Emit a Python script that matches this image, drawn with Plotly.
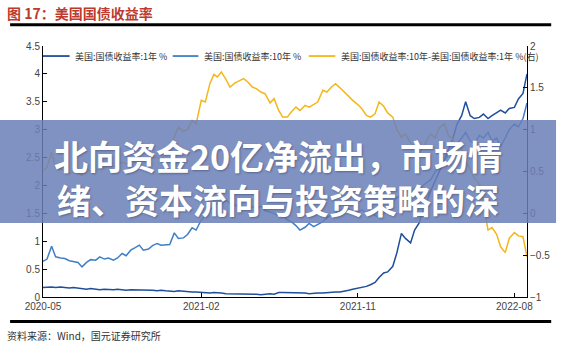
import plotly.graph_objects as go

# Weekly observation dates (1st, 8th, 16th, 23rd of each month), 2020-05 .. 2022-08
months = []
yr, mo = 2020, 5
while (yr, mo) <= (2022, 8):
    months.append(f"{yr}-{mo:02d}")
    mo += 1
    if mo > 12:
        yr, mo = yr + 1, 1
week_days = ["01", "08", "16", "23"]
dates = [f"{m}-{d}" for m in months for d in week_days]

# 美国:国债收益率:1年 (%)
yield_1y = [
    0.17, 0.18, 0.18, 0.17,   # 2020-05
    0.18, 0.17, 0.16, 0.17,   # 2020-06
    0.16, 0.15, 0.14, 0.15,   # 2020-07
    0.14, 0.13, 0.14, 0.13,   # 2020-08
    0.13, 0.14, 0.13, 0.12,   # 2020-09
    0.13, 0.13, 0.12, 0.13,   # 2020-10
    0.12, 0.12, 0.11, 0.12,   # 2020-11
    0.11, 0.10, 0.10, 0.11,   # 2020-12
    0.10, 0.10, 0.09, 0.09,   # 2021-01
    0.08, 0.07, 0.07, 0.08,   # 2021-02
    0.07, 0.07, 0.06, 0.06,   # 2021-03
    0.06, 0.05, 0.05, 0.05,   # 2021-04
    0.05, 0.05, 0.04, 0.05,   # 2021-05
    0.06, 0.05, 0.08, 0.08,   # 2021-06
    0.08, 0.07, 0.07, 0.07,   # 2021-07
    0.07, 0.06, 0.07, 0.07,   # 2021-08
    0.07, 0.08, 0.08, 0.09,   # 2021-09
    0.09, 0.10, 0.12, 0.14,   # 2021-10
    0.16, 0.17, 0.19, 0.22,   # 2021-11
    0.26, 0.35, 0.43, 0.45,   # 2021-12
    0.55, 0.79, 1.14, 1.05,   # 2022-01
    0.97, 1.20, 1.33, 1.56,   # 2022-02
    1.70, 1.90, 2.10, 2.25,   # 2022-03
    2.45, 2.65, 2.85, 3.10,   # 2022-04
    3.25, 3.50, 3.25, 3.20,   # 2022-05
    3.22, 3.28, 3.20, 3.25,   # 2022-06
    3.30, 3.35, 3.30, 3.38,   # 2022-07
    3.40, 3.55, 3.65, 4.00,   # 2022-08
]

# 美国:国债收益率:10年 (%)
yield_10y = [
    0.64, 0.68, 0.91, 0.72,   # 2020-05
    0.70, 0.69, 0.65, 0.64,   # 2020-06
    0.62, 0.54, 0.62, 0.67,   # 2020-07
    0.66, 0.72, 0.68, 0.70,   # 2020-08
    0.66, 0.70, 0.78, 0.74,   # 2020-09
    0.84, 0.88, 0.93, 0.84,   # 2020-10
    0.86, 0.92, 0.96, 0.93,   # 2020-11
    0.93, 0.94, 1.15, 1.05,   # 2020-12
    1.06, 1.12, 1.24, 1.20,   # 2021-01
    1.38, 1.45, 1.56, 1.62,   # 2021-02
    1.70, 1.66, 1.74, 1.68,   # 2021-03
    1.65, 1.62, 1.58, 1.60,   # 2021-04
    1.62, 1.58, 1.63, 1.55,   # 2021-05
    1.52, 1.50, 1.45, 1.48,   # 2021-06
    1.38, 1.35, 1.28, 1.20,   # 2021-07
    1.25, 1.32, 1.26, 1.30,   # 2021-08
    1.35, 1.42, 1.48, 1.52,   # 2021-09
    1.55, 1.60, 1.58, 1.54,   # 2021-10
    1.52, 1.56, 1.50, 1.58,   # 2021-11
    1.46, 1.43, 1.50, 1.52,   # 2021-12
    1.70, 1.78, 1.82, 1.75,   # 2022-01
    1.80, 1.95, 1.90, 2.00,   # 2022-02
    2.05, 2.10, 2.25, 2.35,   # 2022-03
    2.45, 2.55, 2.70, 2.75,   # 2022-04
    2.85, 2.95, 2.80, 2.75,   # 2022-05
    2.90, 2.85, 2.95, 2.80,   # 2022-06
    2.85, 2.70, 2.85, 3.00,   # 2022-07
    3.10, 3.05, 3.20, 3.48,   # 2022-08
]

# 美国:国债收益率:10年-1年 (%), right axis
spread_10y_1y = [
    0.51, 0.55, 0.73, 0.54,   # 2020-05
    0.53, 0.51, 0.48, 0.50,   # 2020-06
    0.49, 0.45, 0.53, 0.50,   # 2020-07
    0.51, 0.55, 0.54, 0.57,   # 2020-08
    0.56, 0.58, 0.61, 0.59,   # 2020-09
    0.63, 0.61, 0.64, 0.62,   # 2020-10
    0.63, 0.66, 0.67, 0.65,   # 2020-11
    0.70, 0.79, 0.92, 1.03,   # 2020-12
    0.98, 1.00, 1.11, 1.07,   # 2021-01
    1.35, 1.33, 1.55, 1.66,   # 2021-02
    1.63, 1.69, 1.60, 1.51,   # 2021-03
    1.56, 1.58, 1.61, 1.57,   # 2021-04
    1.51, 1.49, 1.45, 1.43,   # 2021-05
    1.32, 1.37, 1.23, 1.15,   # 2021-06
    1.15, 1.21, 1.27, 1.23,   # 2021-07
    1.29, 1.27, 1.30, 1.33,   # 2021-08
    1.47, 1.45, 1.51, 1.55,   # 2021-09
    1.50, 1.45, 1.40, 1.35,   # 2021-10
    1.30, 1.25, 1.17, 1.15,   # 2021-11
    1.19, 1.33, 1.28, 1.20,   # 2021-12
    1.15, 1.00, 0.91, 0.95,   # 2022-01
    0.84, 0.80, 0.72, 0.78,   # 2022-02
    0.87, 0.95, 0.90, 1.02,   # 2022-03
    1.07, 0.93, 0.88, 0.80,   # 2022-04
    0.78, 0.62, 0.53, 0.42,   # 2022-05
    0.35, 0.13, -0.20, -0.17, # 2022-06
    -0.25, -0.40, -0.47, -0.30,  # 2022-07
    -0.23, -0.27, -0.28, -0.52,  # 2022-08
]

x_tick_vals = ["2020-05-01", "2021-02-01", "2021-11-01", "2022-08-01"]
x_tick_text = ["2020-05", "2021-02", "2021-11", "2022-08"]

series_names = [
    "美国:国债收益率:1年 %",
    "美国:国债收益率:10年 %",
    "美国:国债收益率:10年-美国:国债收益率:1年 %(右)",
]
series_colors = ["#1F4E9B", "#3F7FC6", "#F4B71A"]

headline_lines = ["北向资金20亿净流出，市场情", "绪、资本流向与投资策略的深"]

CJK = "Noto Sans CJK SC"
TICK_FONT = dict(family="Liberation Sans, Arial", size=10, color="#444444")

fig = go.Figure()
fig.add_trace(go.Scatter(x=dates, y=yield_1y, name=series_names[0], mode="lines",
                         line=dict(color=series_colors[0], width=1.5)))
fig.add_trace(go.Scatter(x=dates, y=yield_10y, name=series_names[1], mode="lines",
                         line=dict(color=series_colors[1], width=1.5)))
fig.add_trace(go.Scatter(x=dates, y=spread_10y_1y, name=series_names[2], mode="lines",
                         yaxis="y2", line=dict(color=series_colors[2], width=1.5)))

fig.update_layout(
    width=562, height=344,
    margin=dict(l=43, r=27, t=46, b=47),
    paper_bgcolor="white", plot_bgcolor="white",
    showlegend=False,
    xaxis=dict(type="date", range=["2020-05-01", "2022-08-23"],
               tickvals=x_tick_vals, ticktext=x_tick_text,
               showline=True, linecolor="black", linewidth=1,
               ticks="inside", ticklen=4, tickcolor="black",
               showgrid=False, zeroline=False, tickfont=TICK_FONT),
    yaxis=dict(range=[0, 4.5], dtick=0.5, tickformat="~g",
               showline=True, linecolor="black", linewidth=1,
               ticks="inside", ticklen=4, tickcolor="black",
               showgrid=False, zeroline=False, tickfont=TICK_FONT),
    yaxis2=dict(range=[-1, 2], dtick=0.5, tickformat="~g", overlaying="y", side="right",
                showline=True, linecolor="black", linewidth=1,
                ticks="inside", ticklen=4, tickcolor="black",
                showgrid=False, zeroline=False, tickfont=TICK_FONT),
)

# Single-row legend across the top of the plot area
legend_slots = [(0.0, 0.055), (0.268, 0.321), (0.549, 0.604)]
legend_y = 0.96
for (lx0, lx1), name, color in zip(legend_slots, series_names, series_colors):
    fig.add_shape(type="line", xref="paper", yref="paper", x0=lx0, x1=lx1,
                  y0=legend_y, y1=legend_y, line=dict(color=color, width=1.8))
    fig.add_annotation(text=name, xref="paper", yref="paper", x=lx1 + 0.008, y=legend_y,
                       xanchor="left", yanchor="middle", showarrow=False,
                       font=dict(family=CJK, size=9, color="#333333"))

# Header rule, footer rule and the translucent headline band
fig.add_shape(type="line", xref="paper", yref="paper", x0=-0.068, x1=1.05, y0=1.085, y1=1.085,
              line=dict(color="black", width=3))
fig.add_shape(type="line", xref="paper", yref="paper", x0=-0.068, x1=1.05, y0=-0.098, y1=-0.098,
              line=dict(color="black", width=3))
fig.add_shape(type="rect", xref="paper", yref="paper", x0=-0.09, x1=1.06, y0=0.295, y1=0.705,
              line=dict(width=0), fillcolor="rgba(106,127,183,0.85)", layer="above")

fig.add_annotation(text="<b>图 17：美国国债收益率</b>", xref="paper", yref="paper",
                   x=-0.078, y=1.13, xanchor="left", yanchor="middle", showarrow=False,
                   font=dict(family=CJK, size=14, color="#BE3A2C"))
fig.add_annotation(text="资料来源：Wind，国元证券研究所", xref="paper", yref="paper",
                   x=-0.078, y=-0.152, xanchor="left", yanchor="middle", showarrow=False,
                   font=dict(family=CJK, size=10, color="#333333"))
fig.add_annotation(text="<b>" + "<br>".join(headline_lines) + "</b>",
                   xref="paper", yref="paper", x=0.485, y=0.478,
                   xanchor="center", yanchor="middle", align="center", showarrow=False,
                   font=dict(family=CJK, size=34, color="white",
                             shadow="1px 1px 2px rgba(40,50,80,0.45)"))

fig.write_html("out.html")
